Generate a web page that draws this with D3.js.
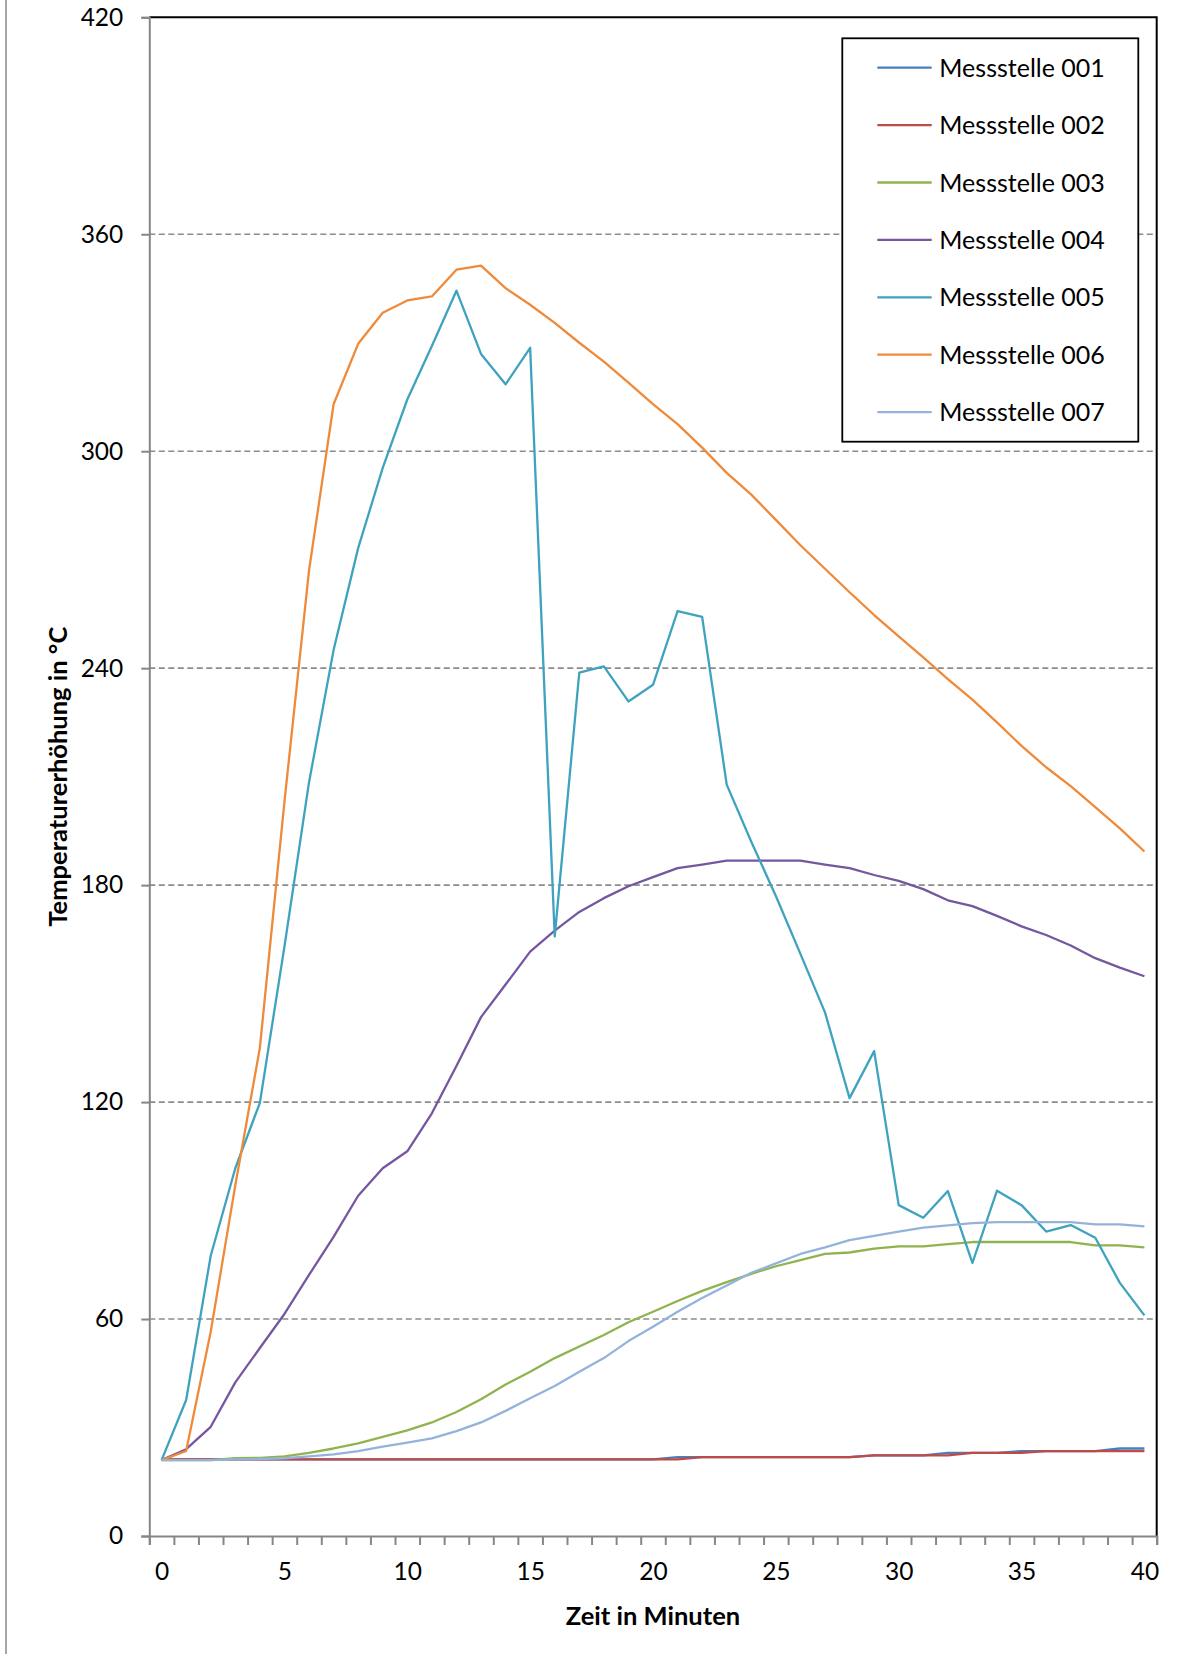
<!DOCTYPE html>
<html>
<head>
<meta charset="utf-8">
<script src="https://cdn.jsdelivr.net/npm/d3@7"></script>
<style>
  html, body { margin: 0; padding: 0; background: #fff; }
  svg { display: block; }
  text { font-family: Lato, "Open Sans", sans-serif; fill: #000; }
</style>
</head>
<body>
<svg id="chart" width="1184" height="1654"></svg>
<script>
// ---- data ----
const minutes = [0,1,2,3,4,5,6,7,8,9,10,11,12,13,14,15,16,17,18,19,20,21,22,23,24,25,26,27,28,29,30,31,32,33,34,35,36,37,38,39,40];
const xTickLabels = [0,5,10,15,20,25,30,35,40];
const yTickValues = [0,60,120,180,240,300,360,420];
const seriesNames = ["Messstelle 001","Messstelle 002","Messstelle 003","Messstelle 004","Messstelle 005","Messstelle 006","Messstelle 007"];
const seriesColors = ["#4A7EBB","#BE4B48","#8FB34E","#7557A0","#3FA2BE","#EE8A3A","#94B3DB"];

const s001 = [21.2,21.2,21.2,21.2,21.2,21.2,21.2,21.2,21.2,21.2,21.2,21.2,21.2,21.2,21.2,21.2,21.2,21.2,21.2,21.2,21.2,21.8,21.8,21.8,21.8,21.8,21.8,21.8,21.8,22.3,22.3,22.3,23,23,23,23.5,23.5,23.5,23.5,24.2,24.2];
const s002 = [21.2,21.2,21.2,21.2,21.2,21.2,21.2,21.2,21.2,21.2,21.2,21.2,21.2,21.2,21.2,21.2,21.2,21.2,21.2,21.2,21.2,21.2,21.8,21.8,21.8,21.8,21.8,21.8,21.8,22.3,22.3,22.3,22.3,23,23,23,23.5,23.5,23.5,23.5,23.5];
const s003 = [21,21,21,21.5,21.6,22,23,24.2,25.6,27.4,29.2,31.4,34.3,37.8,41.9,45.4,49.2,52.4,55.6,59.1,62,65,67.8,70.2,72.5,74.6,76.3,78,78.4,79.5,80.1,80.1,80.7,81.3,81.3,81.3,81.3,81.3,80.4,80.4,79.8];
const s004 = [21,24,30.2,42.5,52,61.4,72.2,82.7,94.1,101.7,106.4,116.9,130,143.5,152.5,161.6,167.4,172.6,176.4,179.7,182.2,184.7,185.7,186.8,186.8,186.8,186.8,185.7,184.7,182.8,181.2,178.9,175.8,174.2,171.5,168.6,166.2,163.3,159.8,157.2,154.8];
const s005 = [21,37.6,77.5,101.7,119.8,163,208.4,245,273.2,295.4,314.3,329.1,344.4,326.9,318.5,328.6,165.8,238.8,240.5,230.8,235.4,255.8,254.2,207.8,192,177,161,144.8,121.1,134.1,91.5,88,95.4,75.5,95.5,91.5,84.2,86,82.5,70,61];
const s006 = [21,23.5,56.5,97,135,203,267,313,329.7,338.3,341.7,342.8,350.2,351.3,345.1,340.5,335.5,330,324.8,319,313,307.5,301,294,288,281,274,267.5,261,254.7,248.8,243,237,231.3,225,218.5,212.6,207.4,201.6,195.7,189.3];
const s007 = [21,21,21,21.2,21.3,21.5,22,22.6,23.5,24.7,25.8,27,29,31.4,34.6,38.1,41.5,45.4,49.2,53.9,57.9,62,65.8,69.3,72.8,75.4,78,79.8,81.8,83,84.2,85.3,85.9,86.5,86.8,86.8,86.8,86.8,86.2,86.2,85.6];
const allSeries = [s001,s002,s003,s004,s005,s006,s007];

// ---- layout ----
const svg = d3.select("#chart");
const L = 149.3, R = 1156.7, T = 17.3, B = 1536;

const x = d3.scaleLinear().domain([minutes[0] - 0.5, minutes[minutes.length-1] + 0.5]).range([L, R]);
const y = d3.scaleLinear().domain([0, 420]).range([B, T]);

// outer left border
svg.append("line").attr("x1", 6).attr("x2", 6).attr("y1", 0).attr("y2", 1654)
  .attr("stroke", "#a6a6a6").attr("stroke-width", 2);

// gridlines (dashed)
svg.append("g").selectAll("line").data(yTickValues.filter(v => v > 0 && v < 420)).join("line")
  .attr("x1", L).attr("x2", R).attr("y1", d => y(d)).attr("y2", d => y(d))
  .attr("stroke", "#8c8c8c").attr("stroke-width", 1.6).attr("stroke-dasharray", "6,3.5");

// plot border top & right (black)
svg.append("path")
  .attr("d", `M${L},${y(420)}H${R}V${B}`)
  .attr("fill", "none").attr("stroke", "#000").attr("stroke-width", 2);

// y axis
const yAxis = d3.axisLeft(y).tickValues(yTickValues).tickSize(8).tickPadding(18).tickFormat(d3.format("d"));
const gy = svg.append("g").attr("transform", `translate(${L},0)`).call(yAxis);
gy.select(".domain").attr("stroke", "#868686").attr("stroke-width", 2);
gy.selectAll(".tick line").attr("stroke", "#868686").attr("stroke-width", 2);
gy.selectAll(".tick text").attr("font-size", 24.5).attr("font-family", "Lato").attr("fill", "#000");

// x axis: tick marks at category boundaries
const boundaries = minutes.map(m => m - 0.5).concat([minutes[minutes.length-1] + 0.5]);
const xAxisTicks = d3.axisBottom(x).tickValues(boundaries).tickSize(9).tickFormat("");
const gx = svg.append("g").attr("transform", `translate(0,${B})`).call(xAxisTicks);
gx.select(".domain").attr("stroke", "#868686").attr("stroke-width", 2);
gx.selectAll(".tick line").attr("stroke", "#868686").attr("stroke-width", 2);
// x labels
const xAxisLabels = d3.axisBottom(x).tickValues(xTickLabels).tickSize(0).tickPadding(27).tickFormat(d3.format("d"));
const gxl = svg.append("g").attr("transform", `translate(0,${B})`).call(xAxisLabels);
gxl.select(".domain").remove();
gxl.selectAll(".tick text").attr("font-size", 24.5).attr("font-family", "Lato").attr("fill", "#000");

// series lines
const line = d3.line().x((d, i) => x(minutes[i])).y(d => y(d));
svg.append("g").selectAll("path").data(allSeries).join("path")
  .attr("d", d => line(d))
  .attr("fill", "none")
  .attr("stroke", (d, i) => seriesColors[i])
  .attr("stroke-width", 2.3)
  .attr("stroke-linejoin", "round");

// axis titles
svg.append("text").attr("x", (L + R) / 2).attr("y", 1625)
  .attr("text-anchor", "middle").attr("font-weight", "bold").attr("font-size", 25.5)
  .text("Zeit in Minuten");
svg.append("text").attr("transform", `translate(67,${(T + B) / 2}) rotate(-90)`)
  .attr("text-anchor", "middle").attr("font-weight", "bold").attr("font-size", 25.5)
  .text("Temperaturerhöhung in °C");

// legend
const lg = svg.append("g");
lg.append("rect").attr("x", 842.3).attr("y", 38.3).attr("width", 296).attr("height", 403.4)
  .attr("fill", "#fff").attr("stroke", "#000").attr("stroke-width", 1.8);
const rows = lg.selectAll("g.row").data(seriesNames).join("g").attr("class", "row")
  .attr("transform", (d, i) => `translate(0,${67.7 + i * 57.4})`);
rows.append("line").attr("x1", 877.3).attr("x2", 931.7).attr("y1", 0).attr("y2", 0)
  .attr("stroke", (d, i) => seriesColors[i]).attr("stroke-width", 2.3);
rows.append("text").attr("x", 939.3).attr("y", 0).attr("dy", "0.36em")
  .attr("font-size", 25).text(d => d);
</script>
</body>
</html>
